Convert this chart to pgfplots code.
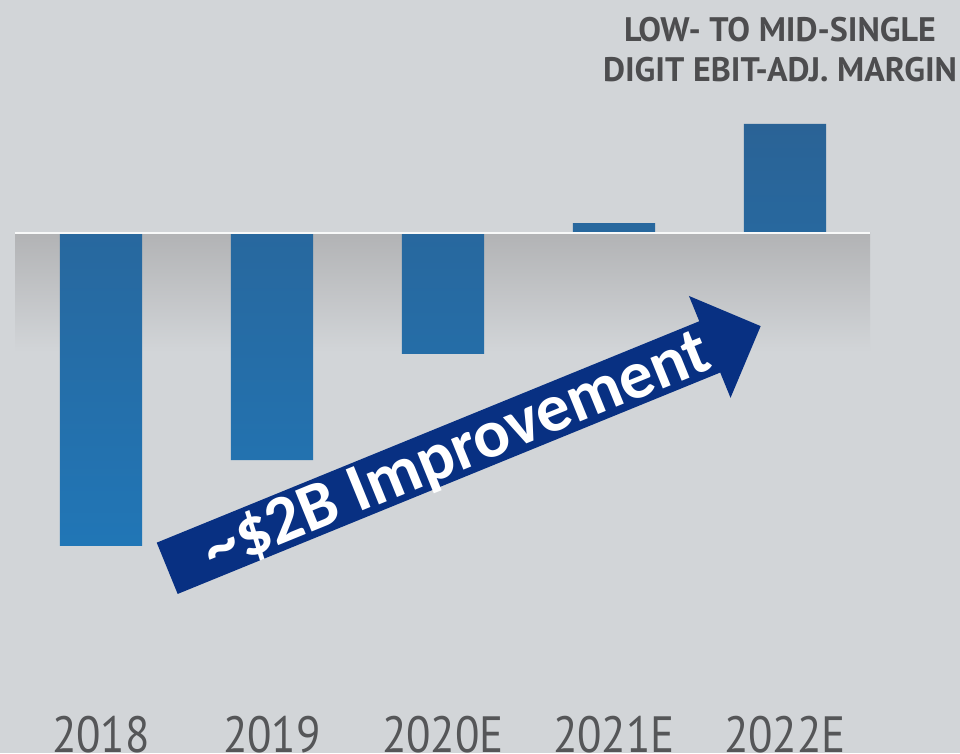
\documentclass[border=0pt]{standalone}
\usepackage{fontspec}
\usepackage{graphicx}
\usepackage{pgfplots}
\pgfplotsset{compat=1.18}
\setmainfont{PT Sans}
\newfontfamily\arrowfont{Carlito}
\definecolor{bg}{RGB}{210,213,216}
\definecolor{band}{RGB}{178,179,181}
\definecolor{bartop}{RGB}{42,99,150}
\definecolor{barbot}{RGB}{33,118,182}
\definecolor{navy}{RGB}{8,48,130}
\definecolor{txtgrey}{RGB}{77,77,79}
\definecolor{lblgrey}{RGB}{85,86,88}
\tikzset{yearlbl/.style={anchor=base, inner sep=0pt, text=lblgrey, font=\fontsize{51}{55}\selectfont}}
\begin{document}
\begin{tikzpicture}[x=1pt,y=1pt]
\useasboundingbox (0,0) rectangle (960,753);
\fill[bg] (0,0) rectangle (960,753);
% grey gradient band under the zero line
\shade[top color=band, bottom color=bg] (15,{753-233}) rectangle (870,{753-352});
\begin{axis}[
  at={(0pt,0pt)}, anchor=south west,
  scale only axis, width=960pt, height=753pt,
  xmin=-0.5906, xmax=5.0234, ymin=-2.4645, ymax=1.1043,
  axis lines=none, clip=false,
  ybar, bar width=0.48,
]
\addplot[draw=none, top color=bartop, bottom color=barbot] coordinates {
  (0,-1.483) (1,-1.076) (2,-0.573) (3,0.047) (4,0.517)};
\draw[white!85!bg, line width=1.2pt] (axis cs:-0.503,0) -- (axis cs:4.497,0);
\node[yearlbl] at (axis cs:0,-2.462) {\scalebox{0.88}[1]{2018}};
\node[yearlbl] at (axis cs:1,-2.462) {\scalebox{0.88}[1]{2019}};
\node[yearlbl] at (axis cs:2,-2.462) {\scalebox{0.88}[1]{2020E}};
\node[yearlbl] at (axis cs:3,-2.462) {\scalebox{0.88}[1]{2021E}};
\node[yearlbl] at (axis cs:4,-2.462) {\scalebox{0.88}[1]{2022E}};
\end{axis}
% arrow
\begin{scope}[shift={(167.2,{753-568.3})}, rotate=22.2]
\fill[navy] (0,27.7) -- (586,27.7) -- (586,55) -- (641,0) -- (586,-55) -- (586,-27.7) -- (0,-27.7) -- cycle;
\node[anchor=base, inner sep=0pt, text=white, rotate=22.2,
  font=\arrowfont\bfseries\fontsize{68}{70}\selectfont] at (312,-21) {\textasciitilde\$2B Improvement};
\end{scope}
% top annotation
\node[anchor=base, inner sep=0pt, text=txtgrey, font=\bfseries\fontsize{34}{36}\selectfont]
  at (780,{753-42}) {LOW- TO MID-SINGLE};
\node[anchor=base, inner sep=0pt, text=txtgrey, font=\bfseries\fontsize{34}{36}\selectfont]
  at (780,{753-82}) {DIGIT EBIT-ADJ. MARGIN};
\end{tikzpicture}
\end{document}
